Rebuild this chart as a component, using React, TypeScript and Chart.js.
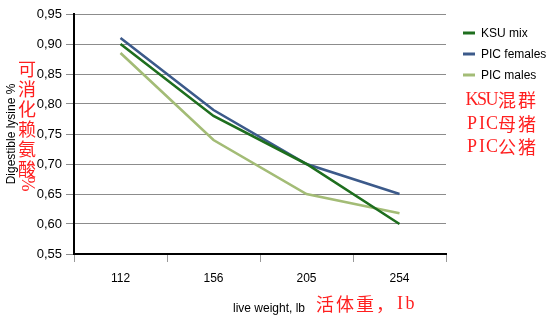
import React, { useEffect, useRef } from 'react';
import { Chart, registerables } from 'chart.js';
Chart.register(...registerables);

const categories = ['112', '156', '205', '254'];
const ksuMix = [0.9, 0.78, 0.7, 0.6];
const picFemales = [0.91, 0.79, 0.7, 0.65];
const picMales = [0.885, 0.74, 0.65, 0.618];
const seriesNames = ['KSU mix', 'PIC females', 'PIC males'];
const seriesColors = ['#1e6e1e', '#3c5a8a', '#a3bc76'];
const seriesNamesZh = ['KSU混群', 'PIC母猪', 'PIC公猪'];
const yTitle = 'Digestible lysine %';
const yTitleZh = '可消化赖氨酸%';
const xTitle = 'live weight, lb';
const xTitleZh = '活体重，Ib';

const LATIN = '"Liberation Sans", Arial, sans-serif';
const CJK_FONT = '18px "Noto Sans CJK SC", sans-serif';
const ASCII_FONT = '18px "Liberation Serif", serif';
const RED = 'rgba(255,0,0,0.88)';
const STEP = 20;

const isWide = (c: string) => c.charCodeAt(0) > 0x2e80;

// draw text char by char with SimSun-like fixed advances
function drawMixed(ctx: CanvasRenderingContext2D, text: string, x: number, y: number) {
  ctx.textAlign = 'center';
  ctx.textBaseline = 'middle';
  let cx = x;
  Array.from(text).forEach((c) => {
    const w = isWide(c) ? STEP : STEP / 2;
    ctx.font = isWide(c) ? CJK_FONT : ASCII_FONT;
    ctx.fillText(c, cx + w / 2, y);
    cx += w;
  });
}

const overlayPlugin = {
  id: 'overlay',
  afterDraw(chart: any) {
    const ctx = chart.ctx as CanvasRenderingContext2D;
    ctx.save();
    // legend
    const lx = 463;
    const ly = [33, 54, 75];
    chart.data.datasets.forEach((ds: any, i: number) => {
      ctx.strokeStyle = ds.borderColor;
      ctx.lineWidth = 3;
      ctx.beginPath();
      ctx.moveTo(lx, ly[i]);
      ctx.lineTo(lx + 12, ly[i]);
      ctx.stroke();
      ctx.fillStyle = '#000';
      ctx.font = '12px ' + LATIN;
      ctx.textAlign = 'left';
      ctx.textBaseline = 'middle';
      ctx.fillText(ds.label, 481, ly[i] + 1);
    });
    // red legend translations
    ctx.fillStyle = RED;
    const zy = [100, 124, 147];
    seriesNamesZh.forEach((t, i) => drawMixed(ctx, t, 467, zy[i]));
    // x title
    ctx.fillStyle = '#000';
    ctx.font = '12px ' + LATIN;
    ctx.textAlign = 'left';
    ctx.textBaseline = 'middle';
    ctx.fillText(xTitle, 233, 309);
    // red x title
    ctx.fillStyle = RED;
    drawMixed(ctx, xTitleZh, 315, 304);
    // red vertical y title
    ctx.textAlign = 'center';
    ctx.textBaseline = 'middle';
    Array.from(yTitleZh).forEach((c, i) => {
      const cy = 69 + i * STEP;
      if (c === '%') {
        ctx.font = ASCII_FONT;
        ctx.save();
        ctx.translate(27, cy - 5);
        ctx.rotate(Math.PI / 2);
        ctx.fillText(c, 0, 0);
        ctx.restore();
      } else {
        ctx.font = CJK_FONT;
        ctx.fillText(c, 27, cy);
      }
    });
    ctx.restore();
  },
};

export default function App() {
  const ref = useRef<HTMLCanvasElement | null>(null);
  useEffect(() => {
    document.body.style.margin = '0';
    const datasets = [ksuMix, picFemales, picMales].map((d, i) => ({
      label: seriesNames[i],
      data: d,
      borderColor: seriesColors[i],
      backgroundColor: seriesColors[i],
      borderWidth: 2.6,
      pointRadius: 0,
      tension: 0,
      fill: false,
    }));
    const chart = new Chart(ref.current as HTMLCanvasElement, {
      type: 'line',
      data: { labels: categories, datasets },
      options: {
        animation: false,
        responsive: false,
        maintainAspectRatio: false,
        layout: { padding: { top: 14, right: 108, bottom: 0, left: 0 } },
        plugins: { legend: { display: false }, tooltip: { enabled: false } },
        scales: {
          x: {
            type: 'category',
            offset: true,
            afterFit: (s: any) => {
              s.height = 74;
            },
            grid: {
              display: true,
              drawOnChartArea: false,
              drawTicks: true,
              tickLength: 8,
              color: '#999',
              offset: true,
            },
            border: { color: '#000', width: 2 },
            ticks: {
              color: '#000',
              font: { family: LATIN, size: 12 },
              padding: 9,
            },
          },
          y: {
            min: 0.55,
            max: 0.95,
            afterFit: (s: any) => {
              s.width = 74;
            },
            grid: { color: '#8c8c8c', tickLength: 8, lineWidth: 1 },
            border: { color: '#000', width: 2 },
            ticks: {
              stepSize: 0.05,
              color: '#000',
              font: { family: LATIN, size: 13 },
              padding: 4,
              callback: (v: any) => Number(v).toFixed(2).replace('.', ','),
            },
            title: {
              display: true,
              text: yTitle,
              color: '#000',
              font: { family: LATIN, size: 12 },
              padding: { top: 4, bottom: 4 },
            },
          },
        },
      },
      plugins: [overlayPlugin],
    });
    return () => chart.destroy();
  }, []);
  return (
    <div style={{ position: 'absolute', left: 0, top: 0, width: 554, height: 328, background: '#fff' }}>
      <canvas ref={ref} width={554} height={328} style={{ width: 554, height: 328, display: 'block' }} />
    </div>
  );
}
